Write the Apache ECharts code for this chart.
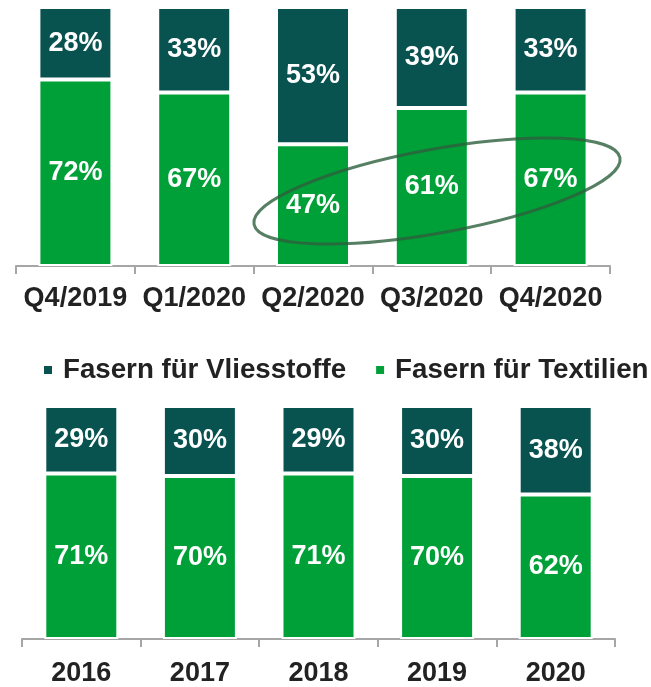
<!DOCTYPE html>
<html>
<head>
<meta charset="utf-8">
<script src="https://cdn.jsdelivr.net/npm/echarts@6/dist/echarts.min.js"></script>
<style>
  html, body { margin: 0; padding: 0; background: #fff; }
  #chart { width: 651px; height: 687px; }
</style>
</head>
<body>
<div id="chart"></div>
<script>
const quarters = ['Q4/2019', 'Q1/2020', 'Q2/2020', 'Q3/2020', 'Q4/2020'];
const vliesQuarter = [28, 33, 53, 39, 33];
const textilQuarter = [72, 67, 47, 61, 67];

const years = ['2016', '2017', '2018', '2019', '2020'];
const vliesYear = [29, 30, 29, 30, 38];
const textilYear = [71, 70, 71, 70, 62];

const nameVlies = 'Fasern für Vliesstoffe';
const nameTextil = 'Fasern für Textilien';

const dark = '#08524F';
const green = '#00A038';
const font = '"Liberation Sans", Arial, sans-serif';

const chart = echarts.init(document.getElementById('chart'));

// gemeinsamer Stil für alle Balken
const barSeries = (name, data, color, axisIndex) => ({
  name: name,
  type: 'bar',
  stack: 'total' + axisIndex,
  xAxisIndex: axisIndex,
  yAxisIndex: axisIndex,
  data: data,
  barWidth: 74,
  itemStyle: { color: color, borderColor: '#fff', borderWidth: 2 },
  label: {
    show: true,
    position: 'inside',
    formatter: '{c}%',
    color: '#fff',
    fontFamily: font,
    fontWeight: 'bold',
    fontSize: 27
  },
  emphasis: { disabled: true }
});

const xAxisBase = (cats, margin) => ({
  type: 'category',
  data: cats,
  axisLine: { lineStyle: { color: '#A6A6A6', width: 2 } },
  axisTick: { show: true, length: 8, lineStyle: { color: '#A6A6A6', width: 2 } },
  axisLabel: {
    interval: 0,
    color: '#222',
    fontFamily: font,
    fontWeight: 'bold',
    fontSize: 27,
    margin: margin
  }
});

const option = {
  animation: false,
  legend: {
    data: [nameVlies, nameTextil],
    left: 42,
    top: 356,
    width: 640,
    padding: 0,
    icon: 'rect',
    itemWidth: 10,
    itemHeight: 10,
    itemGap: 28,
    textStyle: {
      color: '#222',
      fontFamily: font,
      fontWeight: 'bold',
      fontSize: 27.7,
      padding: [0, 0, 0, 5]
    }
  },
  grid: [
    { left: 16, right: 41, top: 7, height: 259 },
    { left: 22, right: 36, top: 406, height: 234 }
  ],
  xAxis: [
    Object.assign(xAxisBase(quarters, 19), { gridIndex: 0 }),
    Object.assign(xAxisBase(years, 21), { gridIndex: 1 })
  ],
  yAxis: [
    { type: 'value', gridIndex: 0, min: 0, max: 100, show: false },
    { type: 'value', gridIndex: 1, min: 0, max: 100, show: false }
  ],
  series: [
    barSeries(nameTextil, textilQuarter, green, 0),
    barSeries(nameVlies, vliesQuarter, dark, 0),
    barSeries(nameTextil, textilYear, green, 1),
    barSeries(nameVlies, vliesYear, dark, 1)
  ],
  // handgezeichnete Markierung um Q2-Q4/2020
  graphic: [{
    type: 'ellipse',
    x: 437,
    y: 191,
    rotation: 0.18,
    shape: { cx: 0, cy: 0, rx: 186, ry: 42 },
    style: { fill: null, stroke: 'rgba(45,95,60,0.8)', lineWidth: 3 },
    z: 100
  }]
};

chart.setOption(option);
</script>
</body>
</html>
